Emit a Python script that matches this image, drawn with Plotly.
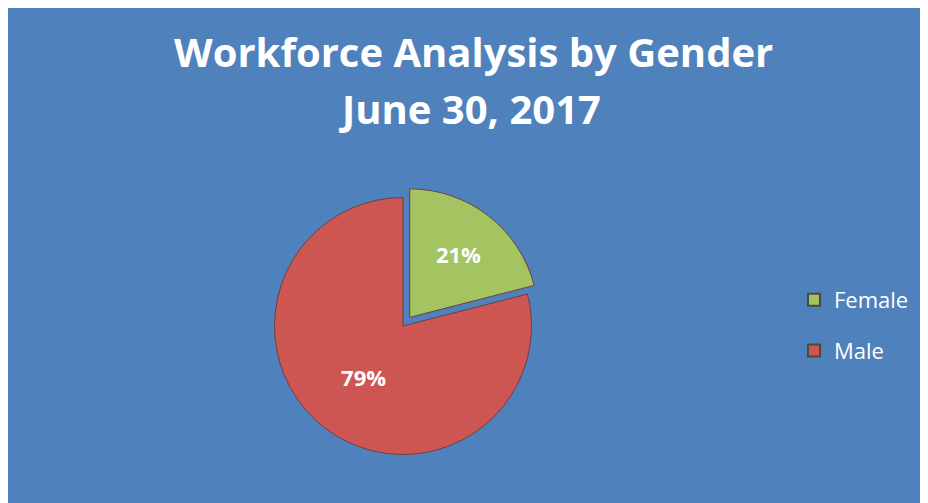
import plotly.graph_objects as go

# Data
labels = ["Female", "Male"]
values = [21, 79]
colors = ["#A4C461", "#CD5652"]
title_lines = ["Workforce Analysis by Gender", "June 30, 2017"]

# page body has an 8px margin, so figure is 920x495 placed at (8, 8)
W, H = 920, 495
BG = "#4F81BD"
FONT = "Open Sans"

fig = go.Figure()

pull = 0.085
R = 128.5 * (1 + pull)
cx, cy = 395, 318
fig.add_trace(go.Pie(
    labels=labels,
    values=values,
    sort=False,
    direction="clockwise",
    rotation=0,
    pull=[pull, 0],
    marker=dict(colors=colors, line=dict(color="#6b4040", width=1)),
    textinfo="percent",
    texttemplate="%{percent:.0%}",
    textposition="inside",
    insidetextorientation="horizontal",
    textfont=dict(family=FONT, size=22, color="white", weight="bold"),
    domain=dict(x=[(cx - R) / W, (cx + R) / W],
                y=[(H - cy - R) / H, (H - cy + R) / H]),
    showlegend=False,
    hoverinfo="label+percent",
))

for lab, col in zip(labels, colors):
    fig.add_trace(go.Scatter(
        x=[None], y=[None], mode="markers", name=lab,
        legendgroup=lab,
        marker=dict(symbol="square", size=13, color=col,
                    line=dict(color="#4a4a3a", width=1)),
        showlegend=True,
    ))

fig.update_layout(
    width=W, height=H,
    margin=dict(l=0, r=0, t=0, b=0),
    paper_bgcolor=BG,
    plot_bgcolor=BG,
    xaxis=dict(visible=False),
    yaxis=dict(visible=False),
    showlegend=True,
    legend=dict(
        x=786 / W, y=1 - 271 / H, xanchor="left", yanchor="top",
        font=dict(family=FONT, size=22, color="white"),
        bgcolor="rgba(0,0,0,0)",
        tracegroupgap=19,
        itemsizing="constant",
    ),
    annotations=[
        dict(text=title_lines[0], xref="paper", yref="paper",
             x=465 / W, y=1 - 73 / H, xanchor="center", yanchor="bottom",
             showarrow=False,
             font=dict(family=FONT, size=40, color="white", weight="bold")),
        dict(text=title_lines[1], xref="paper", yref="paper",
             x=462 / W, y=1 - 130 / H, xanchor="center", yanchor="bottom",
             showarrow=False,
             font=dict(family=FONT, size=40, color="white", weight="bold")),
    ],
)

fig.write_html("out.html")
